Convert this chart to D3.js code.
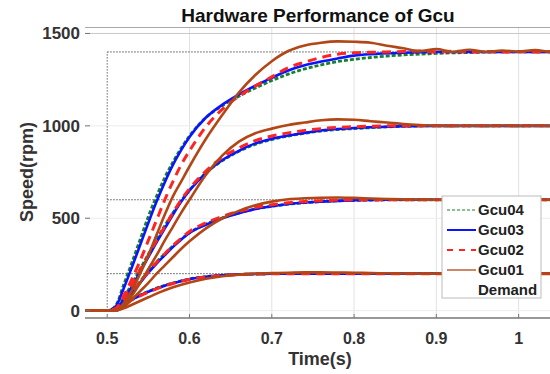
<!DOCTYPE html>
<html>
<head>
<meta charset="utf-8">
<script src="https://cdn.jsdelivr.net/npm/d3@7"></script>
<style>
  body { margin: 0; background: #fff; }
  text { font-family: Arial, "Liberation Sans", sans-serif; font-weight: bold; }
</style>
</head>
<body>
<script>
// sample times (s)
var time = [0.47,0.50,0.51,0.52,0.53,0.54,0.55,0.56,0.57,0.58,0.59,0.60,0.62,0.64,0.66,0.68,0.70,0.72,0.74,0.76,0.78,0.80,0.82,0.84,0.86,0.88,0.90,0.92,0.94,0.96,0.98,1.00,1.02,1.04,1.06];

// demand 1400
var gcu04_1400 = [0,0,25,140,260,385,510,620,720,805,880,945,1045,1110,1160,1205,1245,1280,1308,1330,1348,1360,1370,1378,1384,1388,1392,1395,1397,1399,1400,1400,1400,1400,1400];
var gcu03_1400 = [0,0,20,120,235,355,475,590,695,790,870,940,1045,1115,1170,1218,1260,1300,1328,1348,1365,1380,1388,1393,1396,1398,1400,1400,1400,1400,1400,1400,1400,1400,1400];
var gcu02_1400 = [0,0,10,80,170,270,380,490,600,700,790,865,995,1090,1160,1215,1265,1315,1345,1370,1388,1395,1398,1400,1402,1405,1400,1404,1400,1403,1400,1402,1400,1401,1400];
var gcu01_1400 = [0,0,0,40,110,200,300,410,520,620,700,780,930,1060,1180,1275,1350,1405,1435,1450,1457,1455,1450,1434,1420,1405,1415,1400,1412,1400,1408,1402,1410,1400,1405];

// demand 1000
var gcu04_1000 = [0,0,12,70,145,225,305,385,460,530,595,652,745,812,862,900,926,945,960,972,980,985,990,994,997,999,1000,1000,1000,1000,1000,1000,1000,1000,1000];
var gcu03_1000 = [0,0,10,60,130,210,290,370,445,520,590,650,745,815,865,905,930,948,962,975,983,988,992,995,998,1000,1000,1000,1000,1000,1000,1000,1000,1000,1000];
var gcu02_1000 = [0,0,10,65,140,220,300,380,455,530,600,660,755,830,880,920,945,962,975,985,992,995,998,1000,1000,1000,1000,1000,1000,1000,1000,1000,1000,1000,1000];
var gcu01_1000 = [0,0,0,25,80,150,225,300,380,455,530,600,735,840,915,960,985,1005,1018,1030,1035,1033,1025,1018,1010,1005,1002,1000,1001,1000,1002,1000,1001,1000,1000];

// demand 600
var gcu04_600 = [0,0,10,50,103,158,212,263,308,350,388,422,468,502,528,550,564,576,584,590,594,596,598,599,600,600,600,600,600,600,600,600,600,600,600];
var gcu03_600 = [0,0,8,45,95,150,205,255,300,345,385,420,465,500,527,550,565,577,585,590,594,597,599,600,600,600,600,600,600,600,600,600,600,600,600];
var gcu02_600 = [0,0,8,48,100,155,210,262,308,352,392,428,475,510,537,558,573,584,590,595,598,600,600,600,600,600,600,600,600,600,600,600,600,600,600];
var gcu01_600 = [0,0,0,20,60,105,150,200,245,290,335,375,445,500,540,570,590,603,608,611,612,610,607,604,602,601,600,600,601,600,600,601,600,600,600];

// demand 200
var gcu04_200 = [0,0,10,36,62,84,104,122,137,150,161,171,184,192,196,198,200,200,200,200,200,200,200,200,200,200,200,200,200,200,200,200,200,200,200];
var gcu03_200 = [0,0,10,35,60,82,102,120,135,148,160,170,183,191,196,198,200,200,200,200,200,200,200,200,200,200,200,200,200,200,200,200,200,200,200];
var gcu02_200 = [0,0,9,34,58,80,100,118,134,147,158,168,182,190,195,198,199,200,200,200,200,200,200,200,200,200,200,200,200,200,200,200,200,200,200];
var gcu01_200 = [0,0,0,12,32,52,72,92,110,126,140,152,172,186,195,200,203,205,207,207,206,205,203,202,201,200,200,201,200,200,201,200,200,200,200];

var demandLevels = [200, 600, 1400];
var stepTime = 0.5;
var xTicks = [0.5, 0.6, 0.7, 0.8, 0.9, 1];
var yTicks = [0, 500, 1000, 1500];
var names = ["Gcu04", "Gcu03", "Gcu02", "Gcu01", "Demand"];

var styles = {
  Gcu04: {color: "#16802a", width: 2.8, dash: "4,2", legW: 1.2, legDash: "3,2"},
  Gcu03: {color: "#0a14ff", width: 2.6, dash: null, legW: 2, legDash: null},
  Gcu02: {color: "#ff2424", width: 3, dash: "9,6", legW: 2, legDash: "6,6"},
  Gcu01: {color: "#b24616", width: 2.6, dash: null, legW: 1.3, legDash: null}
};

var runs = {
  Gcu04: [gcu04_200, gcu04_600, gcu04_1000, gcu04_1400],
  Gcu03: [gcu03_200, gcu03_600, gcu03_1000, gcu03_1400],
  Gcu02: [gcu02_200, gcu02_600, gcu02_1000, gcu02_1400],
  Gcu01: [gcu01_200, gcu01_600, gcu01_1000, gcu01_1400]
};

var width = 550, height = 374;
var plotL = 85, plotT = 27, plotB = 318, plotR = 568;

var svg = d3.select("body").append("svg")
  .attr("width", width)
  .attr("height", height);

var x = d3.scaleLinear().domain([0.473, 1.06]).range([plotL, plotR]);
var y = d3.scaleLinear().domain([-40, 1535]).range([plotB, plotT]);

svg.append("defs").append("clipPath").attr("id", "plot")
  .append("rect")
  .attr("x", plotL).attr("y", plotT)
  .attr("width", plotR - plotL).attr("height", plotB - plotT);

// grid
svg.append("g").selectAll("line.vg")
  .data(xTicks.slice(1))
  .enter().append("line")
  .attr("x1", d => x(d)).attr("x2", d => x(d))
  .attr("y1", plotT).attr("y2", plotB)
  .attr("stroke", "#e2e2e2").attr("stroke-width", 1);

svg.append("g").selectAll("line.hg")
  .data(yTicks)
  .enter().append("line")
  .attr("x1", plotL).attr("x2", width)
  .attr("y1", d => y(d)).attr("y2", d => y(d))
  .attr("stroke", d => d == 1500 ? "#c8c8c8" : "#ececec").attr("stroke-width", 1);

// box top
svg.append("line")
  .attr("x1", plotL).attr("x2", width)
  .attr("y1", plotT + 0.5).attr("y2", plotT + 0.5)
  .attr("stroke", "#a8a8a8");

// demand (step)
var demand = svg.append("g").attr("clip-path", "url(#plot)");
demand.append("line")
  .attr("x1", x(stepTime)).attr("x2", x(stepTime))
  .attr("y1", y(0)).attr("y2", y(d3.max(demandLevels)))
  .attr("stroke", "#666").attr("stroke-width", 1).attr("stroke-dasharray", "1.5,1.5");
demand.selectAll("line.dl")
  .data(demandLevels)
  .enter().append("line")
  .attr("x1", x(stepTime)).attr("x2", width)
  .attr("y1", d => y(d)).attr("y2", d => y(d))
  .attr("stroke", "#555").attr("stroke-width", 1).attr("stroke-dasharray", "1.5,1.5");

var line = d3.line()
  .x((d, i) => x(time[i]))
  .y(d => y(d))
  .curve(d3.curveMonotoneX);

var curves = svg.append("g").attr("clip-path", "url(#plot)");
["Gcu04", "Gcu03", "Gcu02", "Gcu01"].forEach(function (n) {
  var s = styles[n];
  curves.selectAll(null)
    .data(runs[n])
    .enter().append("path")
    .attr("d", line)
    .attr("fill", "none")
    .attr("stroke", s.color)
    .attr("stroke-width", s.width)
    .attr("stroke-dasharray", s.dash);
});

// axes
svg.append("line")
  .attr("x1", plotL).attr("x2", width)
  .attr("y1", plotB).attr("y2", plotB)
  .attr("stroke", "#333").attr("stroke-width", 1.2);

svg.append("g").selectAll("line.xt")
  .data(xTicks)
  .enter().append("line")
  .attr("x1", d => x(d)).attr("x2", d => x(d))
  .attr("y1", plotB).attr("y2", plotB - 4)
  .attr("stroke", "#777");

svg.append("g").selectAll("line.yt")
  .data(yTicks)
  .enter().append("line")
  .attr("x1", plotL).attr("x2", plotL + 5)
  .attr("y1", d => y(d)).attr("y2", d => y(d))
  .attr("stroke", "#777");

svg.append("g").selectAll("text.xl")
  .data(xTicks)
  .enter().append("text")
  .attr("x", d => x(d)).attr("y", 344)
  .attr("text-anchor", "middle")
  .attr("font-size", 16).attr("fill", "#333")
  .text(d => d3.format("")(d));

svg.append("g").selectAll("text.yl")
  .data(yTicks)
  .enter().append("text")
  .attr("x", 80).attr("y", d => y(d) + 6)
  .attr("text-anchor", "end")
  .attr("font-size", 17).attr("fill", "#333")
  .text(d => d);

svg.append("text")
  .attr("x", 318).attr("y", 22)
  .attr("text-anchor", "middle")
  .attr("font-size", 19).attr("fill", "#111")
  .text("Hardware Performance of Gcu");

svg.append("text")
  .attr("x", 320).attr("y", 365)
  .attr("text-anchor", "middle")
  .attr("font-size", 18).attr("fill", "#333")
  .text("Time(s)");

svg.append("text")
  .attr("transform", "translate(33,172) rotate(-90)")
  .attr("text-anchor", "middle")
  .attr("font-size", 18).attr("fill", "#333")
  .text("Speed(rpm)");

// legend
var leg = svg.append("g").attr("transform", "translate(442,196)");
leg.append("rect")
  .attr("width", 99).attr("height", 102)
  .attr("fill", "#fff").attr("stroke", "#bbb");

var item = leg.selectAll("g.item")
  .data(names)
  .enter().append("g")
  .attr("transform", (d, i) => `translate(0, ${14 + i * 20})`);

item.filter(d => d != "Demand").append("line")
  .attr("x1", 5).attr("x2", 34)
  .attr("stroke", d => styles[d].color)
  .attr("stroke-width", d => styles[d].legW)
  .attr("stroke-dasharray", d => styles[d].legDash);

item.append("text")
  .attr("x", 36).attr("y", 5)
  .attr("font-size", 15).attr("fill", "#222")
  .text(d => d);
</script>
</body>
</html>
